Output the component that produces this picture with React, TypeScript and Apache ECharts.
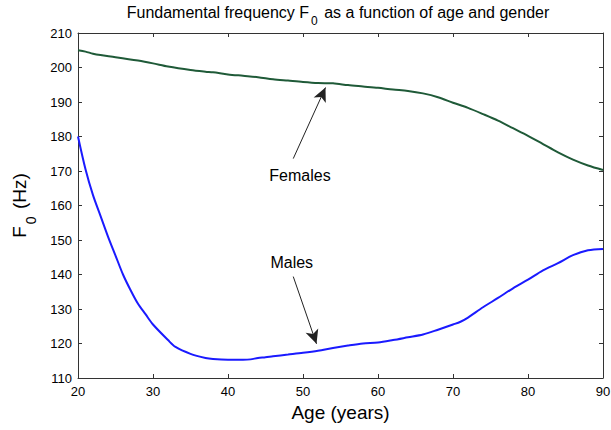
import React, { useEffect, useRef } from "react";
import * as echarts from "echarts";

const femaleAges = [20, 21, 22, 23, 25, 28, 30, 32, 35, 37, 38, 40, 42, 44, 46, 48, 50, 52, 54, 56, 58, 60, 62, 64, 66, 68, 70, 72, 74, 76, 78, 80, 82, 84, 86, 88, 90];
const femaleF0 = [205, 204.6, 204, 203.6, 203, 202, 201.2, 200.3, 199.3, 198.8, 198.6, 198, 197.6, 197.2, 196.6, 196.2, 195.8, 195.5, 195.4, 194.9, 194.5, 194.1, 193.6, 193.2, 192.5, 191.4, 189.8, 188.3, 186.5, 184.6, 182.4, 180.2, 177.8, 175.4, 173.3, 171.6, 170.3];

const maleAges = [20, 21, 22, 23, 24, 25, 26, 27, 28, 29, 30, 32, 33, 35, 37, 38, 40, 42, 43, 44, 45, 46, 48, 50, 52, 54, 56, 58, 60, 62, 64, 66, 68, 70, 71, 72, 74, 76, 78, 80, 82, 84, 86, 88, 90];
const maleF0 = [180, 170.5, 163, 157, 151, 145.5, 140, 135.5, 131.5, 128.5, 125.5, 121, 119, 117, 115.8, 115.5, 115.3, 115.3, 115.4, 115.8, 116, 116.3, 116.8, 117.3, 117.9, 118.7, 119.4, 120, 120.3, 121, 121.8, 122.6, 124, 125.5, 126.3, 127.5, 130.5, 133.2, 136, 138.5, 141.2, 143.3, 145.6, 147, 147.4];

// annotation anchors in data space: [age, F0]
const femaleLabel = { text: "Females", at: [49.6, 168.7] };
const femaleArrow = { from: [48.7, 173.6], to: [53.0, 194.2] };
const maleLabel = { text: "Males", at: [48.5, 143.4] };
const maleArrow = { from: [48.7, 139.4], to: [51.8, 119.9] };

const xMin = 20, xMax = 90, xStep = 10;
const yMin = 110, yMax = 210, yStep = 10;

const FONT = "'Liberation Sans', Arial, Helvetica, sans-serif";

export default function App() {
  const ref = useRef<HTMLDivElement>(null);
  useEffect(() => {
    if (!ref.current) return;
    const chart = echarts.init(ref.current, null, { renderer: "svg" });
    const axisLine = { show: true, lineStyle: { color: "#333", width: 1 } };
    const tick = { show: true, inside: true, length: 4, lineStyle: { color: "#333" } };
    const arrowLine = (a: any) => ({
      silent: true,
      symbol: ["none", "arrow"],
      symbolSize: [10, 14],
      label: { show: false },
      lineStyle: { color: "#222", width: 1, type: "solid" },
      itemStyle: { color: "#000" },
      emphasis: { disabled: true },
      data: [[{ coord: a.from }, { coord: a.to }]],
    });
    const textPoint = (l: any) => ({
      silent: true,
      symbol: "circle",
      symbolSize: 0,
      label: { show: true, position: "inside", formatter: l.text, color: "#000", fontSize: 16, fontFamily: FONT },
      data: [{ coord: l.at }],
    });
    chart.setOption({
      animation: false,
      textStyle: { fontFamily: FONT },
      title: {
        text: "{a|Fundamental frequency F}{s|0}{a| as a function of age and gender}",
        left: 338,
        textAlign: "center",
        top: 7,
        padding: 0,
        textStyle: {
          fontWeight: "normal",
          rich: {
            a: { fontSize: 16, fontWeight: "normal", color: "#000", fontFamily: FONT, lineHeight: 18, padding: [0, 0, 8, 0] },
            s: { fontSize: 12, fontWeight: "normal", color: "#000", fontFamily: FONT, lineHeight: 12, padding: [10, 2, 0, 2] },
          },
        },
      },
      grid: { left: 78, right: 8, top: 33, bottom: 52, containLabel: false, outerBoundsMode: "none" },
      xAxis: [
        {
          type: "value", min: xMin, max: xMax, interval: xStep, position: "bottom",
          axisLine, axisTick: tick, splitLine: { show: false },
          axisLabel: { color: "#000", fontSize: 13, margin: 7, fontFamily: FONT },
          name: "Age (years)", nameLocation: "middle", nameGap: 25,
          nameTextStyle: { fontSize: 19, color: "#000", fontFamily: FONT },
        },
        {
          type: "value", min: xMin, max: xMax, interval: xStep, position: "top",
          axisLine, axisTick: tick, splitLine: { show: false }, axisLabel: { show: false },
        },
      ],
      yAxis: [
        {
          type: "value", min: yMin, max: yMax, interval: yStep, position: "left",
          axisLine, axisTick: tick, splitLine: { show: false },
          axisLabel: { color: "#000", fontSize: 13, margin: 6, fontFamily: FONT },
          name: "{a|F}{s|0}{a| (Hz)}", nameLocation: "middle", nameGap: 36, nameRotate: 90,
          nameTextStyle: {
            rich: {
              a: { fontSize: 19, color: "#000", fontFamily: FONT, lineHeight: 22, padding: [0, 0, 10, 0] },
              s: { fontSize: 14, color: "#000", fontFamily: FONT, lineHeight: 14, padding: [12, 2, 0, 2] },
            },
          },
        },
        {
          type: "value", min: yMin, max: yMax, interval: yStep, position: "right",
          axisLine, axisTick: tick, splitLine: { show: false }, axisLabel: { show: false },
        },
      ],
      series: [
        {
          name: "Females", type: "line", xAxisIndex: 0, yAxisIndex: 0,
          data: femaleAges.map((a, i) => [a, femaleF0[i]]),
          showSymbol: false, symbol: "none", smooth: 0.3,
          lineStyle: { color: "#1f5a38", width: 2 },
          markLine: arrowLine(femaleArrow),
          markPoint: textPoint(femaleLabel),
        },
        {
          name: "Males", type: "line", xAxisIndex: 0, yAxisIndex: 0,
          data: maleAges.map((a, i) => [a, maleF0[i]]),
          showSymbol: false, symbol: "none", smooth: 0.3,
          lineStyle: { color: "#1a1aff", width: 2 },
          markLine: arrowLine(maleArrow),
          markPoint: textPoint(maleLabel),
        },
      ],
    });
    return () => chart.dispose();
  }, []);
  return <div ref={ref} style={{ width: 611, height: 430, position: "absolute", left: 0, top: 0, background: "#fff" }} />;
}
